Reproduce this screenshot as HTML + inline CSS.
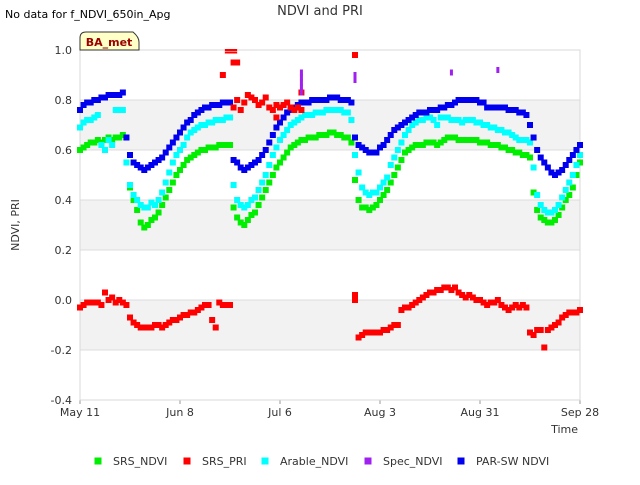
<!DOCTYPE html>
<html><head><meta charset="utf-8"><style>
body{margin:0;background:#fff;font-family:"Liberation Sans","DejaVu Sans",sans-serif}
</style></head><body>
<svg id="c" width="640" height="480" xmlns="http://www.w3.org/2000/svg" style="font-family:'DejaVu Sans','Liberation Sans',sans-serif">
<text x="5" y="18" font-size="11" fill="#000">No data for f_NDVI_650in_Apg</text>
<text x="320" y="15" font-size="13" fill="#333" text-anchor="middle">NDVI and PRI</text>
<g id="plot"></g>
<text transform="translate(19,225) rotate(-90)" font-size="11" fill="#333" text-anchor="middle">NDVI, PRI</text>
<text x="578" y="433" font-size="11" fill="#333" text-anchor="end">Time</text>
<g>
<path d="M80,50 L80,38 Q80,32 86,32 L133,32 Q139,37 139,42 L139,50 Z" fill="#ffffc8" stroke="#333" stroke-width="1"/>
<text x="109" y="46" font-size="11" font-weight="bold" fill="#990000" text-anchor="middle">BA_met</text>
</g>
<g id="legend"></g>
</svg>
<script>
const yTicks=[1.0,0.8,0.6,0.4,0.2,0.0,-0.2,-0.4];
const yTickLabels=["1.0","0.8","0.6","0.4","0.2","0.0","-0.2","-0.4"];
const xTickDays=[0,28,56,84,112,140];
const xTickLabels=["May 11","Jun 8","Jul 6","Aug 3","Aug 31","Sep 28"];
const srsNdvi=[0.60,0.61,0.62,0.63,0.63,0.64,0.63,0.64,0.65,0.64,0.65,0.65,0.66,0.65,
0.45,0.40,0.36,0.31,0.29,0.30,0.32,0.33,0.35,0.38,0.41,0.44,0.47,0.50,0.52,0.54,0.56,0.57,0.58,0.59,0.60,0.60,0.61,0.61,0.61,0.62,0.62,0.62,0.62,
0.37,0.33,0.31,0.30,0.32,0.34,0.35,0.38,0.41,0.44,0.47,0.50,0.53,0.55,0.57,0.59,0.61,0.62,0.63,0.64,0.64,0.65,0.65,0.65,0.66,0.66,0.66,0.67,0.67,0.66,0.66,0.65,0.65,0.63,
0.48,0.40,0.37,0.37,0.36,0.37,0.38,0.40,0.42,0.44,0.47,0.50,0.53,0.56,0.59,0.60,0.61,0.62,0.62,
0.62,0.63,0.63,0.63,0.62,0.63,0.64,0.65,0.65,0.65,0.64,0.64,0.64,0.64,0.64,0.64,0.63,0.63,0.63,0.62,0.62,0.62,0.61,0.61,0.60,0.60,0.59,0.59,0.58,0.58,
0.57,0.43,0.36,0.33,0.32,0.31,0.31,0.32,0.34,0.37,0.40,0.42,0.45,0.50,0.55];
const arableNdvi=[0.69,0.71,0.72,0.72,0.73,0.74,0.62,0.60,0.64,0.62,0.76,0.76,0.76,0.55,
0.46,0.42,0.40,0.38,0.37,0.37,0.39,0.38,0.40,0.43,0.47,0.51,0.55,0.58,0.60,0.62,0.65,0.67,0.68,0.69,0.70,0.70,0.71,0.71,0.72,0.72,0.72,0.73,0.73,
0.46,0.40,0.38,0.37,0.38,0.40,0.41,0.44,0.47,0.50,0.54,0.58,0.61,0.64,0.66,0.68,0.70,0.71,0.72,0.73,0.74,0.74,0.74,0.75,0.75,0.75,0.76,0.76,0.76,0.76,0.76,0.75,0.75,0.72,
0.58,0.51,0.45,0.43,0.42,0.43,0.43,0.45,0.47,0.49,0.54,0.57,0.60,0.63,0.66,0.68,0.70,0.71,0.72,
0.72,0.73,0.73,0.72,0.70,0.73,0.73,0.73,0.72,0.72,0.72,0.71,0.72,0.72,0.72,0.71,0.71,0.70,0.70,0.69,0.69,0.68,0.68,0.67,0.67,0.66,0.65,0.64,0.64,0.64,
0.63,0.53,0.42,0.38,0.36,0.35,0.35,0.36,0.38,0.41,0.44,0.47,0.50,0.54,0.58];
const parSwNdvi=[0.76,0.78,0.79,0.79,0.80,0.80,0.81,0.81,0.82,0.82,0.82,0.82,0.83,0.65,
0.58,0.55,0.54,0.53,0.52,0.53,0.54,0.55,0.56,0.57,0.59,0.61,0.63,0.65,0.67,0.69,0.71,0.72,0.74,0.75,0.76,0.77,0.77,0.78,0.78,0.78,0.79,0.79,0.79,
0.56,0.55,0.53,0.52,0.53,0.54,0.55,0.56,0.58,0.60,0.63,0.66,0.69,0.71,0.73,0.75,0.76,0.77,0.78,0.79,0.79,0.79,0.80,0.80,0.80,0.80,0.80,0.81,0.81,0.81,0.80,0.80,0.80,0.79,
0.65,0.62,0.61,0.60,0.59,0.59,0.59,0.61,0.62,0.64,0.66,0.68,0.69,0.70,0.71,0.72,0.73,0.74,0.75,
0.75,0.75,0.76,0.76,0.76,0.77,0.77,0.78,0.78,0.79,0.80,0.80,0.80,0.80,0.80,0.80,0.79,0.79,0.77,0.77,0.77,0.77,0.77,0.77,0.76,0.76,0.76,0.75,0.75,0.74,
0.70,0.65,0.60,0.57,0.55,0.53,0.51,0.50,0.51,0.52,0.54,0.56,0.58,0.60,0.62];
const priDays=[0,1,2,3,4,5,6,7,8,9,10,11,12,13,
14,15,16,17,18,19,20,21,22,23,24,25,26,27,28,29,30,31,32,33,34,35,36,37,38,39,40,41,42,
40,43,44,
43,44,45,46,47,48,49,50,51,52,53,54,55,56,57,58,59,60,61,62,55,62,
77,77,77,78,79,80,81,82,83,84,85,86,87,88,89,
90,91,92,93,94,95,96,97,98,99,100,101,102,103,104,105,
106,107,108,109,110,111,112,113,114,115,116,117,118,119,120,121,122,123,124,125,
126,127,128,129,130,131,132,133,134,135,136,137,138,139,140];
const srsPri=[-0.03,-0.02,-0.01,-0.01,-0.01,-0.01,-0.02,0.03,0.00,0.01,-0.01,0.00,-0.01,-0.02,
-0.07,-0.09,-0.10,-0.11,-0.11,-0.11,-0.11,-0.10,-0.10,-0.11,-0.10,-0.09,-0.08,-0.08,-0.07,-0.06,-0.06,-0.05,-0.05,-0.04,-0.03,-0.02,-0.02,-0.08,-0.11,-0.01,-0.02,-0.02,-0.02,
0.90,0.95,0.95,
0.77,0.80,0.76,0.79,0.82,0.81,0.80,0.78,0.79,0.81,0.77,0.76,0.78,0.77,0.78,0.79,0.77,0.76,0.77,0.76,0.73,0.83,
0.02,0.98,0.00,-0.15,-0.14,-0.13,-0.13,-0.13,-0.13,-0.13,-0.12,-0.12,-0.11,-0.10,-0.10,
-0.04,-0.03,-0.03,-0.02,-0.01,0.00,0.01,0.02,0.03,0.03,0.04,0.04,0.05,0.05,0.04,0.05,
0.03,0.02,0.01,0.02,0.01,0.00,0.00,-0.01,-0.02,-0.01,-0.01,0.00,-0.02,-0.03,-0.04,-0.03,-0.02,-0.03,-0.02,-0.03,
-0.13,-0.14,-0.12,-0.12,-0.19,-0.12,-0.11,-0.10,-0.09,-0.07,-0.06,-0.05,-0.05,-0.05,-0.04];
const priLineStart=[40,40];
const priLineEnd=[44,44];
const priLineVals=[1.0,0.99];
const specDays=[62,62,62,62,62,77,77,104,117];
const specNdvi=[0.83,0.85,0.87,0.89,0.91,0.88,0.90,0.91,0.92];

const NS="http://www.w3.org/2000/svg";
const X0=80,X1=580,Y0=50,Y1=400,DMAX=140,VMIN=-0.4,VMAX=1.0;
const xs=d=>X0+d/DMAX*(X1-X0);
const ys=v=>Y1-(v-VMIN)/(VMAX-VMIN)*(Y1-Y0);
const plot=document.getElementById('plot');
function mk(tag,attrs,parent){const e=document.createElementNS(NS,tag);for(const k in attrs)e.setAttribute(k,attrs[k]);(parent||plot).appendChild(e);return e;}
mk('rect',{x:X0,y:Y0,width:X1-X0,height:Y1-Y0,fill:'#fff'});
[[0.8,0.6],[0.4,0.2],[0.0,-0.2]].forEach(b=>{
const r=mk('rect',{x:X0,y:ys(b[0]),width:X1-X0,height:ys(b[1])-ys(b[0]),fill:'#f2f2f2'});


});
yTicks.forEach((v,i)=>{
mk('line',{x1:X0,x2:X1,y1:ys(v),y2:ys(v),stroke:'#dcdcdc','stroke-width':1});
const t=mk('text',{x:X0-8,y:ys(v)+4,'font-size':11,fill:'#333','text-anchor':'end'});
t.textContent=yTickLabels[i];


});
xTickDays.forEach((d,i)=>{
mk('line',{x1:xs(d),x2:xs(d),y1:Y1,y2:Y1+4,stroke:'#999'});
const t=mk('text',{x:xs(d),y:Y1+16,'font-size':11,fill:'#333','text-anchor':'middle'});
t.textContent=xTickLabels[i];


});
mk('rect',{x:X0,y:Y0,width:X1-X0,height:Y1-Y0,fill:'none',stroke:'#d8d8d8'});
function series(days,vals,color,name,w,h){
const g=mk('g',{});


vals.forEach((v,i)=>{
if(v==null)return;
const d=days?days[i]:i;
const r=mk('rect',{x:xs(d)-w/2,y:ys(v)-h/2,width:w,height:h,fill:color},g);


});
}
series(null,srsNdvi,'#00ee00','srs-ndvi',6,6);
series(null,arableNdvi,'#00ffff','arable-ndvi',6,6);
series(null,parSwNdvi,'#0000ee','par-sw-ndvi',6,6);
series(priDays,srsPri,'#ff0000','srs-pri',6,6);
priLineVals.forEach((v,i)=>{
const r=mk('rect',{x:xs(priLineStart[i])+2,y:ys(v)-1,width:xs(priLineEnd[i])-xs(priLineStart[i])-2,height:2,fill:'#ff0000'});


});
series(specDays,specNdvi,'#a020f0','spec-ndvi',3,6);
const leg=document.getElementById('legend');
const items=[['SRS_NDVI','#00ee00',98],['SRS_PRI','#ff0000',187],['Arable_NDVI','#00ffff',265],['Spec_NDVI','#a020f0',368],['PAR-SW NDVI','#0000ee',461]];
items.forEach(it=>{
const g=mk('g',{},leg);


mk('rect',{x:it[2]-3.5,y:457.5,width:7,height:7,fill:it[1]},g);
const t=mk('text',{x:it[2]+15,y:465,'font-size':11,fill:'#333'},g);
t.textContent=it[0];
});
</script>
</body></html>
